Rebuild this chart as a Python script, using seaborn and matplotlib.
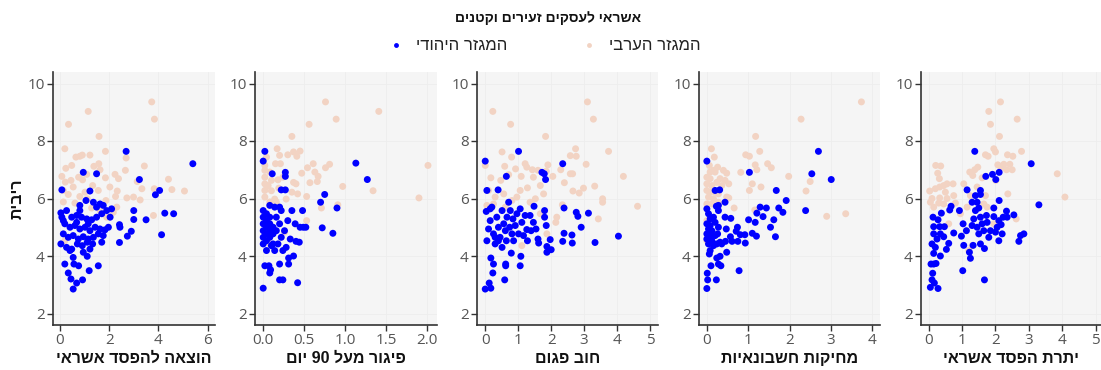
import numpy as np
import pandas as pd
import matplotlib
matplotlib.use("Agg")
import matplotlib.pyplot as plt
from matplotlib.lines import Line2D
import seaborn as sns

# ---------------- data ----------------
title = "אשראי לעסקים זעירים וקטנים"
y_label = "ריבית"
groups = ["המגזר הערבי", "המגזר היהודי"]
panel_labels = ["הוצאה להפסד אשראי", "פיגור מעל 90 יום", "חוב פגום",
                "מחיקות חשבונאיות", "יתרת הפסד אשראי"]
panel_xticks = [[0, 2, 4, 6], [0.0, 0.5, 1.0, 1.5, 2.0], [0, 1, 2, 3, 4, 5],
                [0, 1, 2, 3, 4], [0, 1, 2, 3, 4, 5]]
y_ticks = [2, 4, 6, 8, 10]

# panel 1: הוצאה להפסד אשראי
p1_arab_x = [3.73, 3.84, 1.15, 0.35, 1.59, 0.20, 0.65, 0.81, 0.91, 1.22, 1.85, 2.69, 3.43, 0.24, 0.48,
             1.38, 1.58, 1.63, 0.08, 0.45, 0.22, 0.76, 1.09, 0.92, 1.85, 2.24, 2.38, 2.66, 4.41, 4.55,
             5.06, 3.83, 3.33, 3.14, 2.03, 2.33, 2.26, 2.72, 2.99, 3.26, 1.33, 1.56, 1.02, 0.54, 0.34,
             0.81, 0.14, 0.61, 1.11, 1.87, 2.31, 3.80, 1.90, 0.20, 2.17, 0.14, 1.29, 1.63]
p1_arab_y = [9.36, 8.76, 9.03, 8.58, 8.16, 7.73, 7.44, 7.47, 7.51, 7.51, 7.64, 7.41, 7.13, 7.05, 7.15,
             7.12, 7.21, 7.00, 6.77, 6.63, 6.57, 6.74, 6.84, 6.65, 6.72, 6.84, 6.69, 6.98, 6.67, 6.31,
             6.26, 6.34, 6.34, 6.59, 6.40, 6.26, 6.07, 6.02, 6.05, 5.95, 6.45, 6.28, 6.22, 6.40, 6.14,
             6.07, 6.28, 5.84, 5.99, 5.93, 5.70, 5.41, 5.35, 4.53, 5.52, 5.88, 5.67, 5.58]
p1_jew_x = [5.40, 2.69, 0.95, 1.49, 3.23, 4.05, 3.88, 0.08, 1.22, 4.62, 4.26, 3.50, 3.00, 3.00, 2.42,
            2.44, 2.90, 2.74, 2.42, 4.13, 0.04, 0.08, 0.04, 0.20, 0.34, 0.45, 0.68, 0.54, 0.92, 1.19,
            1.56, 0.76, 0.57, 0.54, 0.95, 1.11, 0.27, 0.48, 0.68, 0.88, 1.09, 1.29, 1.49, 1.70, 1.90,
            2.10, 2.04, 1.63, 1.36, 1.06, 0.81, 1.49, 1.76, 0.20, 0.41, 0.61, 0.81, 1.02, 1.22, 1.43,
            1.63, 1.83, 1.97, 0.14, 0.34, 0.54, 0.75, 0.95, 1.15, 1.36, 1.56, 1.76, 1.70, 0.27, 0.48,
            0.71, 0.91, 1.11, 1.33, 0.41, 1.22, 0.14, 0.68, 1.15, 0.81]
p1_jew_y = [7.21, 7.64, 6.91, 6.86, 6.66, 6.28, 6.13, 6.30, 6.26, 5.47, 5.49, 5.26, 5.58, 5.27, 5.09,
            5.00, 4.86, 4.69, 4.47, 4.74, 5.50, 5.35, 4.42, 3.72, 3.41, 3.20, 3.06, 2.85, 3.17, 3.49,
            3.66, 3.66, 3.72, 3.95, 4.13, 3.99, 5.58, 5.35, 5.41, 5.35, 5.29, 5.26, 5.35, 5.47, 5.58,
            5.64, 5.35, 5.81, 5.87, 5.93, 5.76, 5.70, 5.76, 5.12, 5.00, 5.06, 4.94, 5.00, 4.88, 5.00,
            4.94, 4.91, 5.00, 4.77, 4.65, 4.71, 4.59, 4.67, 4.59, 4.65, 4.77, 4.71, 4.48, 4.30, 4.24,
            4.42, 4.36, 4.48, 4.42, 4.19, 4.24, 5.23, 5.17, 5.12, 5.58]

# panel 2: פיגור מעל 90 יום
p2_arab_x = [0.76, 1.41, 0.89, 0.56, 0.35, 0.17, 0.20, 0.37, 0.45, 0.41, 0.30, 0.04, 0.15, 0.21, 0.61,
             0.81, 0.54, 0.76, 0.08, 0.47, 0.63, 0.67, 0.66, 0.57, 0.37, 0.40, 0.18, 0.97, 1.34, 1.90,
             2.01, 0.53, 0.42, 0.35, 0.19, 0.10, 0.14, 0.91, 0.71, 0.53, 0.26, 0.08, 0.02, 0.02, 0.02,
             0.02, 0.02, 0.02, 0.06, 0.10, 0.08, 0.16, 0.24, 0.28]
p2_arab_y = [9.36, 9.03, 8.76, 8.58, 8.16, 7.73, 7.50, 7.62, 7.65, 7.47, 7.52, 7.44, 7.21, 7.21, 7.21,
             7.19, 7.07, 7.07, 6.92, 6.88, 6.92, 6.77, 6.59, 6.55, 6.56, 6.51, 6.65, 6.42, 6.27, 6.02,
             7.15, 6.07, 6.16, 6.22, 6.36, 6.27, 5.98, 5.78, 5.67, 5.23, 4.83, 4.42, 6.98, 6.74, 6.51,
             6.28, 6.05, 7.15, 6.45, 6.63, 5.88, 5.88, 6.74, 5.98]
p2_jew_x = [1.13, 1.27, 0.02, 0.00, 0.11, 0.27, 0.27, 0.22, 0.27, 0.75, 0.70, 0.90, 0.48, 0.35, 0.72,
            0.85, 0.49, 0.45, 0.52, 0.44, 0.40, 0.37, 0.31, 0.31, 0.20, 0.42, 0.24, 0.20, 0.09, 0.08,
            0.07, 0.02, 0.00, 0.00, 0.00, 0.00, 0.00, 0.00, 0.00, 0.04, 0.04, 0.04, 0.04, 0.04, 0.08,
            0.08, 0.08, 0.08, 0.08, 0.12, 0.12, 0.12, 0.14, 0.16, 0.16, 0.14, 0.20, 0.22, 0.22, 0.26,
            0.28, 0.30, 0.33, 0.39, 0.04, 0.10, 0.18, 0.24, 0.20]
p2_jew_y = [7.23, 6.66, 7.64, 7.30, 6.86, 6.91, 6.77, 6.30, 6.30, 6.14, 5.87, 5.67, 5.58, 5.58, 4.98,
            4.79, 5.00, 5.00, 5.00, 4.48, 4.51, 4.00, 3.93, 3.72, 3.72, 3.07, 3.17, 3.17, 3.52, 3.41,
            3.66, 3.66, 2.88, 5.58, 5.35, 5.12, 4.88, 4.65, 4.42, 5.47, 5.23, 5.00, 4.77, 4.53, 5.35,
            5.12, 4.88, 4.65, 5.76, 5.00, 4.77, 4.42, 5.70, 5.35, 4.88, 4.19, 5.12, 4.65, 5.58, 4.88,
            4.30, 5.23, 4.59, 5.12, 4.19, 4.36, 4.42, 4.19, 5.70]

# panel 3: חוב פגום
p3_arab_x = [3.10, 0.23, 3.28, 0.77, 1.83, 3.74, 2.74, 2.76, 2.58, 0.51, 0.80, 0.00, 0.59, 1.21, 1.26,
             1.43, 0.92, 1.60, 1.90, 1.85, 2.29, 3.06, 4.19, 2.65, 2.58, 0.17, 0.47, 0.71, 1.09, 1.46,
             2.05, 2.40, 3.32, 2.98, 2.85, 2.66, 3.56, 3.56, 3.43, 4.62, 2.34, 2.17, 2.14, 1.87, 1.11,
             0.10, 0.30, 0.56, 0.81, 1.06, 1.28, 1.52, 1.67, 1.77, 0.25, 0.05, 0.61, 1.36, 1.67, 0.96]
p3_arab_y = [9.36, 9.03, 8.76, 8.58, 8.16, 7.64, 7.73, 7.47, 7.49, 7.62, 7.44, 7.15, 7.12, 7.21, 7.09,
             7.00, 7.03, 6.98, 7.17, 6.95, 7.00, 7.19, 6.77, 6.86, 6.86, 6.72, 6.63, 6.83, 6.77, 6.74,
             6.77, 6.55, 6.43, 6.36, 6.19, 6.26, 5.99, 5.87, 5.29, 5.73, 5.78, 5.35, 5.17, 4.77, 4.36,
             6.28, 6.05, 6.16, 5.93, 6.28, 6.37, 5.99, 6.45, 6.16, 5.81, 5.76, 5.70, 5.87, 5.47, 6.05]
p3_jew_x = [0.00, 1.01, 2.35, 1.72, 1.79, 1.83, 0.64, 0.39, 0.05, 2.39, 2.76, 2.81, 3.13, 2.91, 2.39,
            2.63, 2.35, 2.64, 3.33, 4.04, 1.97, 1.87, 2.00, 1.87, 1.60, 1.62, 1.85, 1.80, 1.80, 1.48,
            1.54, 1.26, 1.39, 1.08, 1.06, 0.79, 0.62, 0.62, 0.59, 0.25, 0.23, 0.17, 0.12, 0.17, 0.00,
            0.03, 0.15, 0.20, 0.05, 0.10, 0.15, 0.25, 0.30, 0.35, 0.40, 0.45, 0.51, 0.56, 0.61, 0.64,
            0.66, 0.71, 0.74, 0.76, 0.81, 0.84, 0.86, 0.91, 0.96, 1.01, 1.06, 1.11, 1.16, 1.21, 1.28,
            1.36, 1.46, 0.40, 0.30, 0.51]
p3_jew_y = [7.30, 7.64, 7.21, 6.91, 6.86, 6.66, 6.77, 6.30, 6.28, 5.67, 5.52, 5.38, 5.49, 5.00, 4.79,
            4.73, 4.51, 4.45, 4.47, 4.69, 4.57, 4.33, 4.22, 4.13, 4.59, 4.45, 5.06, 5.58, 5.35, 5.73,
            4.94, 4.92, 4.88, 3.99, 3.66, 4.10, 3.72, 3.66, 3.17, 3.72, 3.41, 3.93, 3.06, 2.88, 2.85,
            5.55, 5.64, 5.70, 4.53, 4.94, 5.23, 4.77, 4.42, 5.35, 5.00, 4.65, 4.30, 5.12, 4.88, 4.53,
            5.35, 5.87, 5.00, 5.58, 4.77, 5.29, 4.53, 5.06, 5.47, 4.77, 5.64, 5.17, 4.71, 5.41, 4.53,
            5.41, 5.17, 4.53, 4.65, 5.58]

# panel 4: מחיקות חשבונאיות
p4_arab_x = [3.74, 2.28, 1.18, 0.11, 0.18, 0.94, 1.03, 1.28, 1.17, 1.47, 1.56, 1.21, 0.06, 0.26, 0.16,
             0.48, 0.82, 1.98, 2.50, 1.10, 1.31, 1.03, 2.40, 0.48, 0.53, 0.66, 1.16, 2.90, 3.36, 0.00,
             0.08, 0.00, 0.12, 0.24, 0.32, 0.44, 0.53, 0.36, 0.00, 0.08, 0.20, 0.28, 0.04, 0.16, 0.00,
             0.12, 0.28, 0.08, 0.20, 0.00, 0.00, 0.40]
p4_arab_y = [9.36, 8.76, 8.16, 7.73, 7.44, 7.52, 7.47, 7.64, 7.17, 7.21, 7.07, 7.00, 7.15, 7.09, 6.98,
             6.88, 6.91, 6.77, 6.59, 6.51, 6.40, 6.28, 6.26, 6.05, 6.02, 5.67, 5.60, 5.38, 5.47, 6.74,
             6.69, 6.51, 6.45, 6.56, 6.69, 6.63, 6.51, 6.45, 6.28, 6.22, 6.22, 6.16, 6.05, 5.99, 5.81,
             5.81, 5.87, 6.92, 6.92, 5.23, 4.53, 6.98]
p4_jew_x = [0.00, 2.70, 2.54, 3.01, 1.03, 1.68, 1.92, 2.39, 1.74, 1.44, 1.29, 1.21, 1.36, 1.84, 1.62,
            1.54, 1.66, 1.01, 1.17, 1.10, 1.20, 0.92, 0.81, 0.93, 0.74, 0.71, 0.75, 0.58, 0.57, 0.61,
            0.47, 0.44, 0.44, 0.45, 0.48, 0.78, 0.24, 0.32, 0.34, 0.28, 0.10, 0.23, 0.02, 0.01, 0.00,
            0.28, 0.23, 0.28, 0.00, 0.04, 0.08, 0.00, 0.08, 0.04, 0.12, 0.00, 0.08, 0.00, 0.12, 0.04,
            0.16, 0.08, 0.20, 0.24, 0.28, 0.20, 0.32, 0.36, 0.26, 0.16, 0.31, 0.20, 0.16, 0.06]
p4_jew_y = [7.30, 7.64, 6.86, 6.66, 6.91, 6.28, 5.93, 5.58, 5.67, 5.67, 5.70, 5.49, 5.37, 5.52, 5.26,
            5.00, 4.67, 5.26, 5.17, 4.79, 4.69, 4.74, 4.74, 4.45, 5.00, 4.86, 4.51, 5.31, 4.67, 4.51,
            4.94, 5.35, 5.87, 4.51, 4.13, 3.49, 3.93, 3.99, 3.66, 3.72, 3.66, 3.17, 3.17, 3.40, 2.87,
            5.76, 5.73, 5.58, 5.64, 5.47, 5.29, 5.12, 5.06, 4.94, 4.88, 4.77, 4.71, 4.59, 4.53, 4.42,
            4.36, 4.19, 4.71, 4.42, 5.00, 5.17, 4.48, 4.42, 4.77, 5.35, 6.30, 6.28, 4.42, 4.07]

# panel 5: יתרת הפסד אשראי
p5_arab_x = [2.15, 1.80, 2.65, 1.85, 2.12, 2.78, 1.95, 2.00, 1.70, 1.78, 2.36, 2.52, 0.21, 0.36, 2.07,
             2.25, 2.43, 2.17, 2.33, 2.50, 1.47, 1.38, 1.23, 1.32, 0.27, 0.32, 3.85, 4.08, 2.01, 1.60,
             1.05, 0.73, 0.55, 0.45, 0.33, 0.20, 0.03, 0.50, 0.75, 0.55, 0.33, 0.10, 0.05, 0.30, 0.45,
             0.80, 0.15, 2.37, 2.62, 1.95, 1.45, 1.25, 1.70, 1.75, 1.15, 0.60, 0.95, 1.30, 1.20, 1.65]
p5_arab_y = [9.36, 9.03, 8.76, 8.58, 8.16, 7.64, 7.73, 7.62, 7.52, 7.47, 7.52, 7.47, 7.15, 7.13, 7.17,
             7.19, 7.19, 7.07, 7.00, 7.00, 7.09, 7.00, 6.92, 6.80, 6.88, 6.69, 6.86, 6.05, 6.63, 6.72,
             6.51, 6.51, 6.51, 6.45, 6.40, 6.34, 6.26, 6.22, 6.10, 6.00, 6.02, 6.00, 5.87, 5.84, 5.81,
             5.84, 5.70, 6.16, 5.29, 5.12, 6.40, 6.10, 6.10, 5.70, 5.70, 5.12, 5.47, 4.36, 4.19, 5.81]
p5_jew_x = [1.38, 3.07, 2.11, 1.91, 1.71, 2.01, 1.15, 1.55, 1.55, 2.11, 3.30, 0.67, 0.63, 0.92, 0.38,
            0.13, 0.28, 0.15, 0.33, 0.47, 0.15, 0.35, 0.45, 0.25, 0.10, 0.20, 0.15, 0.35, 0.53, 0.60,
            0.75, 0.07, 0.15, 0.22, 0.12, 0.10, 0.17, 0.05, 0.28, 1.02, 1.67, 1.05, 1.03, 0.98, 1.22,
            1.25, 1.33, 1.13, 1.30, 1.35, 1.40, 1.45, 1.45, 1.50, 1.55, 1.55, 1.60, 1.65, 1.67, 1.73,
            1.75, 1.80, 1.85, 1.50, 1.95, 1.95, 2.00, 2.05, 2.10, 2.10, 2.17, 2.20, 2.23, 2.33, 2.35,
            2.55, 2.70, 2.75, 2.85, 1.40, 1.30]
p5_jew_y = [7.64, 7.21, 6.91, 6.84, 6.77, 6.66, 6.30, 6.28, 6.14, 5.93, 5.78, 5.73, 5.60, 5.58, 5.49,
            5.35, 5.26, 5.02, 5.02, 5.02, 4.77, 4.77, 4.67, 4.59, 4.42, 4.30, 4.09, 4.00, 4.23, 4.44,
            4.80, 3.72, 3.72, 3.74, 3.40, 3.17, 3.06, 2.91, 2.87, 3.49, 3.17, 4.37, 5.12, 4.69, 4.13,
            3.92, 4.37, 4.88, 5.06, 5.29, 5.58, 5.87, 5.00, 4.77, 5.35, 4.42, 5.12, 4.88, 4.26, 5.41,
            5.17, 4.65, 4.88, 5.67, 5.67, 5.37, 4.83, 5.00, 5.23, 4.53, 5.09, 4.77, 5.35, 5.56, 5.35,
            5.43, 4.51, 4.71, 4.77, 6.10, 5.87]

panels_data = [
    (p1_arab_x, p1_arab_y, p1_jew_x, p1_jew_y),
    (p2_arab_x, p2_arab_y, p2_jew_x, p2_jew_y),
    (p3_arab_x, p3_arab_y, p3_jew_x, p3_jew_y),
    (p4_arab_x, p4_arab_y, p4_jew_x, p4_jew_y),
    (p5_arab_x, p5_arab_y, p5_jew_x, p5_jew_y),
]

# ---------------- helpers ----------------
def rtl(s):
    """Visual-order Hebrew for matplotlib (no bidi support)."""
    out = []
    for w in reversed(s.split(" ")):
        if any("\u0590" <= c <= "\u05FF" for c in w):
            out.append(w[::-1])
        else:
            out.append(w)
    return " ".join(out)

# ---------------- style ----------------
sns.set_theme(style="white")
plt.rcParams["font.family"] = ["Open Sans", "DejaVu Sans"]
heb_font = ["Liberation Sans", "DejaVu Sans"]

colors = {groups[0]: "#F2D3C3", groups[1]: "#0000FF"}
axis_col = "#333333"
tick_col = "#555555"

W, H = 1101, 370
fig = plt.figure(figsize=(W / 100, H / 100), dpi=100)

top_px, bot_px = 72, 325
panel_px = [(53, 215), (255, 437), (477, 658), (699, 880), (921, 1101)]
panel_xlim = [(-0.28, 6.3), (-0.10, 2.12), (-0.25, 5.24), (-0.19, 4.19), (-0.23, 5.16)]

for i, (px, xl, lab, xt, dat) in enumerate(zip(panel_px, panel_xlim, panel_labels,
                                               panel_xticks, panels_data)):
    ax = fig.add_axes([px[0] / W, (H - bot_px) / H, (px[1] - px[0]) / W, (bot_px - top_px) / H])
    ax_, ay_, jx_, jy_ = dat
    df = pd.DataFrame({
        "x": list(ax_) + list(jx_),
        "y": list(ay_) + list(jy_),
        "g": [groups[0]] * len(ax_) + [groups[1]] * len(jx_),
    })
    sns.scatterplot(data=df, x="x", y="y", hue="g", palette=colors, ax=ax,
                    s=25, linewidth=0, legend=False, zorder=3)
    ax.set_facecolor("#F5F5F5")
    ax.set_xlim(*xl)
    ax.set_ylim(1.6, 10.4)
    ax.set_xticks(xt)
    if i == 1:
        ax.set_xticklabels([f"{v:.1f}" for v in xt])
    else:
        ax.set_xticklabels([f"{v:g}" for v in xt])
    ax.set_yticks(y_ticks)
    ax.grid(True, color="#EDEDED", linewidth=0.6, zorder=0)
    for sp in ["top", "right"]:
        ax.spines[sp].set_visible(False)
    for sp in ["left", "bottom"]:
        ax.spines[sp].set_color(axis_col)
        ax.spines[sp].set_linewidth(1.2)
    ax.tick_params(axis="both", which="major", length=4, width=1, color=axis_col,
                   labelcolor=tick_col, labelsize=11, pad=2, left=True, bottom=True)
    ax.set_xlabel(rtl(lab), fontsize=11.5, fontweight="bold", family=heb_font,
                  color="#111111", labelpad=2)
    if i == 0:
        ax.set_ylabel(rtl(y_label), fontsize=11.5, fontweight="bold", family=heb_font,
                      color="#111111", labelpad=2)
    else:
        ax.set_ylabel("")

fig.text(548 / W, 1 - 18 / H, rtl(title), ha="center", va="center",
         fontsize=10, fontweight="bold", family=heb_font, color="#111111")

handles = [Line2D([], [], marker="o", linestyle="", markersize=3.5,
                  markerfacecolor=colors[groups[1]], markeredgewidth=0),
           Line2D([], [], marker="o", linestyle="", markersize=3.5,
                  markerfacecolor=colors[groups[0]], markeredgewidth=0)]
leg = fig.legend(handles, [rtl(groups[1]), rtl(groups[0])], loc="center",
                 bbox_to_anchor=(546 / W, 1 - 46 / H), ncol=2, frameon=False,
                 handlelength=0.6, handletextpad=0.9, columnspacing=4.6,
                 prop={"family": heb_font, "size": 12})
for t in leg.get_texts():
    t.set_color("#222222")

fig.savefig("out.png", dpi=100)
